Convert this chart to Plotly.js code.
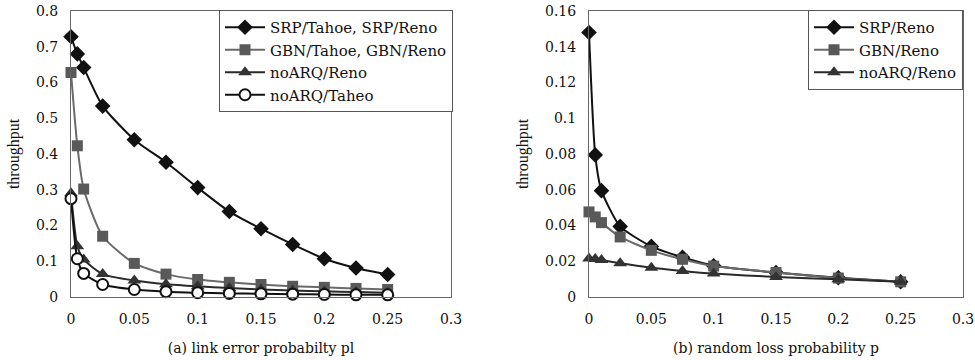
<!DOCTYPE html>
<html>
<head>
<meta charset="utf-8">
<script src="https://cdn.plot.ly/plotly-3.0.1.min.js"></script>
<style>html,body{margin:0;padding:0;background:#fff;}#chart{width:975px;height:360px;}</style>
</head>
<body>
<div id="chart"></div>
<script>
// Panel (a): link error probability pl
const xA = [0, 0.005, 0.01, 0.025, 0.05, 0.075, 0.1, 0.125, 0.15, 0.175, 0.2, 0.225, 0.25];
const srpA = [0.728, 0.68, 0.642, 0.534, 0.44, 0.377, 0.306, 0.239, 0.191, 0.147, 0.107, 0.081, 0.063];
const gbnA = [0.628, 0.423, 0.302, 0.17, 0.094, 0.064, 0.049, 0.041, 0.035, 0.03, 0.027, 0.024, 0.021];
const noarqRenoA = [0.29, 0.142, 0.105, 0.064, 0.046, 0.036, 0.03, 0.025, 0.021, 0.018, 0.016, 0.014, 0.012];
const noarqTaheoA = [0.275, 0.107, 0.066, 0.035, 0.021, 0.015, 0.012, 0.01, 0.009, 0.008, 0.007, 0.006, 0.006];
const namesA = ["SRP/Tahoe, SRP/Reno", "GBN/Tahoe, GBN/Reno", "noARQ/Reno", "noARQ/Taheo"];

// Panel (b): random loss probability p
const xB = [0, 0.005, 0.01, 0.025, 0.05, 0.075, 0.1, 0.15, 0.2, 0.25];
const srpB = [0.148, 0.0795, 0.0595, 0.0395, 0.0283, 0.0222, 0.0175, 0.0137, 0.0108, 0.0085];
const gbnB = [0.0476, 0.0448, 0.0416, 0.0336, 0.0261, 0.0211, 0.0173, 0.0137, 0.0106, 0.0085];
const noarqB = [0.0215, 0.0213, 0.0207, 0.0189, 0.0164, 0.0146, 0.0131, 0.0112, 0.0099, 0.0085];
const namesB = ["SRP/Reno", "GBN/Reno", "noARQ/Reno"];

const xTicks = [0, 0.05, 0.1, 0.15, 0.2, 0.25, 0.3];
const xTickText = ["0", "0.05", "0.1", "0.15", "0.2", "0.25", "0.3"];
const yTicksA = [0, 0.1, 0.2, 0.3, 0.4, 0.5, 0.6, 0.7, 0.8];
const yTickTextA = ["0", "0.1", "0.2", "0.3", "0.4", "0.5", "0.6", "0.7", "0.8"];
const yTicksB = [0, 0.02, 0.04, 0.06, 0.08, 0.1, 0.12, 0.14, 0.16];
const yTickTextB = ["0", "0.02", "0.04", "0.06", "0.08", "0.1", "0.12", "0.14", "0.16"];

const WIDE = "DejaVu Serif, serif";
const SERIF = "Liberation Serif, Times New Roman, serif";

const stSRP = {line:{color:"#111", width:2}, marker:{symbol:"diamond", size:12, color:"#111"}};
const stGBN = {line:{color:"#6a6a6a", width:2}, marker:{symbol:"square", size:11, color:"#595959"}};
const stNoR = {line:{color:"#2a2a2a", width:2}, marker:{symbol:"triangle-up", size:12, color:"#333"}};
const stNoT = {line:{color:"#111", width:2}, marker:{symbol:"circle", size:11, color:"#fff", line:{color:"#111", width:2}}};

function tr(x, y, name, st, xa, ya, lg) {
  return {x:x, y:y, name:name, type:"scatter", mode:"lines+markers",
    line:Object.assign({shape:"spline", smoothing:0.6}, st.line), marker:st.marker,
    xaxis:xa, yaxis:ya, legend:lg, cliponaxis:false};
}

const data = [
  tr(xA, srpA, namesA[0], stSRP, "x", "y", "legend"),
  tr(xA, gbnA, namesA[1], stGBN, "x", "y", "legend"),
  tr(xA, noarqRenoA, namesA[2], stNoR, "x", "y", "legend"),
  tr(xA, noarqTaheoA, namesA[3], stNoT, "x", "y", "legend"),
  tr(xB, srpB, namesB[0], stSRP, "x2", "y2", "legend2"),
  tr(xB, gbnB, namesB[1], stGBN, "x2", "y2", "legend2"),
  tr(xB, noarqB, namesB[2], stNoR, "x2", "y2", "legend2")
];

function xax(dom, title, anchor) {
  return {domain:dom, anchor:anchor, range:[0, 0.3], tickmode:"array", tickvals:xTicks, ticktext:xTickText,
    showgrid:false, zeroline:false, showline:true, mirror:true, linecolor:"#666", linewidth:1,
    ticks:"outside", ticklen:9, tickcolor:"rgba(0,0,0,0)",
    tickfont:{family:WIDE, size:14, color:"#111"},
    title:{text:title, font:{family:WIDE, size:14, color:"#111"}, standoff:17}};
}
function yax(dom, range, tv, tt, anchor) {
  return {domain:dom, anchor:anchor, range:range, tickmode:"array", tickvals:tv, ticktext:tt,
    showgrid:false, zeroline:false, showline:true, mirror:true, linecolor:"#666", linewidth:1,
    ticks:"outside", ticklen:9, tickcolor:"rgba(0,0,0,0)",
    tickfont:{family:WIDE, size:14, color:"#111"},
    title:{text:"throughput", font:{family:SERIF, size:16, color:"#111"}, standoff:12}};
}

const yDom = [1 - 297/360, 1 - 11/360];
const layout = {
  width:975, height:360, paper_bgcolor:"#fff", plot_bgcolor:"#fff",
  margin:{l:0, r:0, t:0, b:0},
  showlegend:true,
  xaxis: xax([71/975, 451/975], "(a) link error probabilty pl", "y"),
  yaxis: yax(yDom, [0, 0.8], yTicksA, yTickTextA, "x"),
  xaxis2: xax([589/975, 963/975], "(b) random loss probability p", "y2"),
  yaxis2: yax(yDom, [0, 0.16], yTicksB, yTickTextB, "x2"),
  legend:{x:453/975, xanchor:"right", y:1 - 10/360, yanchor:"top", bgcolor:"#fff",
    bordercolor:"#555", borderwidth:1, font:{family:WIDE, size:15, color:"#111"}, itemwidth:40, tracegroupgap:0},
  legend2:{x:963/975, xanchor:"right", y:1 - 10/360, yanchor:"top", bgcolor:"#fff",
    bordercolor:"#555", borderwidth:1, font:{family:WIDE, size:15, color:"#111"}, itemwidth:40, tracegroupgap:0}
};

Plotly.newPlot("chart", data, layout, {displayModeBar:false, staticPlot:true});
</script>
</body>
</html>
